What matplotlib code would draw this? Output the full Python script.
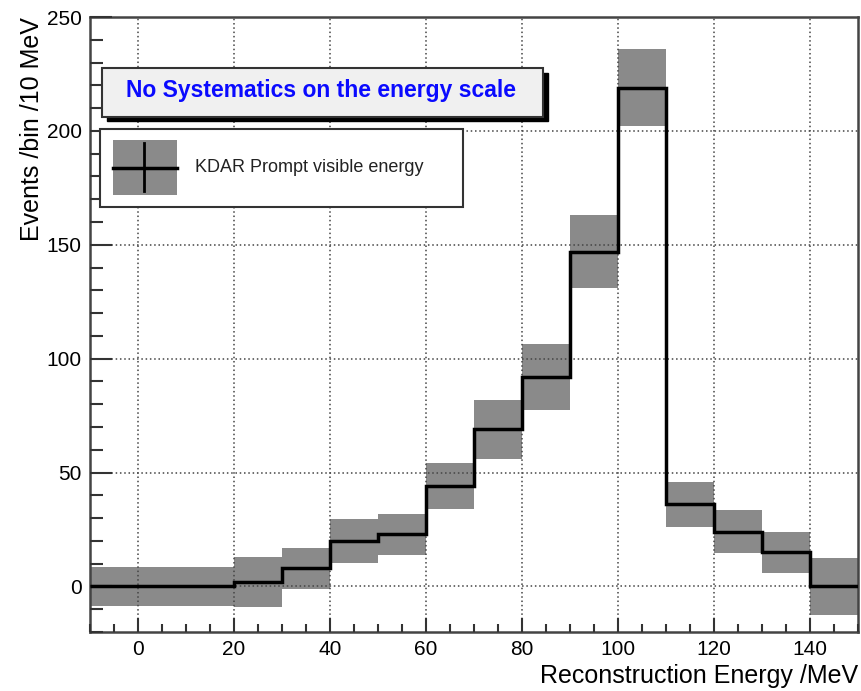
import numpy as np
import matplotlib.pyplot as plt
import matplotlib.patches as mpatches
from matplotlib.ticker import MultipleLocator

plt.rcParams['font.family'] = ['Liberation Sans', 'DejaVu Sans']

# histogram: bin edges (MeV), content and error per bin
bin_edges = [-10, 20, 30, 40, 50, 60, 70, 80, 90, 100, 110, 120, 130, 140, 150]
counts = [0, 2, 8, 20, 23, 44, 69, 92, 147, 219, 36, 24, 15, 0]
errors = [8.5, 11, 9, 9.5, 9, 10, 13, 14.5, 16, 17, 10, 9.5, 9, 12.5]

W, H = 861, 691
fig = plt.figure(figsize=(W / 100, H / 100), dpi=100)
ax = fig.add_axes([90 / W, 1 - 632 / H, 768 / W, 615 / H])

edges = np.array(bin_edges, dtype=float)
c = np.array(counts, dtype=float)
e = np.array(errors, dtype=float)

# error boxes
for lo, hi, v, err in zip(edges[:-1], edges[1:], c, e):
    ax.add_patch(mpatches.Rectangle((lo, v - err), hi - lo, 2 * err,
                                    facecolor="#8a8a8a", edgecolor="none",
                                    zorder=1))

# step line
ax.stairs(c, edges, color="black", linewidth=2.5, zorder=3, baseline=None)

ax.set_xlim(-10, 150)
ax.set_ylim(-20, 250)
ax.xaxis.set_major_locator(MultipleLocator(20))
ax.xaxis.set_minor_locator(MultipleLocator(5))
ax.yaxis.set_major_locator(MultipleLocator(50))
ax.yaxis.set_minor_locator(MultipleLocator(10))
ax.tick_params(which="both", direction="in", labelsize=15, width=1.5,
               color="#333333")
ax.tick_params(which="major", length=10)
ax.tick_params(which="minor", length=6)
ax.tick_params(axis="y", which="major", length=16)
ax.tick_params(axis="y", which="minor", length=9)
ax.tick_params(axis="x", pad=6)
ax.tick_params(axis="y", pad=6)
ax.set_axisbelow(False)
ax.grid(True, which="major", color="#444444", linestyle=(0, (1, 1.8)),
        linewidth=1.1, zorder=2)
for spine in ax.spines.values():
    spine.set_linewidth(1.8)
    spine.set_color("#444444")

ax.set_xlabel("Reconstruction Energy /MeV", fontsize=18, loc="right",
              labelpad=3)
ax.set_ylabel("Events /bin /10 MeV", fontsize=18, loc="top", labelpad=2)


def fbox(x0, y0, x1, y1):
    # pixel box (top-left origin) -> figure fraction rectangle
    return (x0 / W, 1 - y1 / H), (x1 - x0) / W, (y1 - y0) / H


# title box with shadow
xy, w, h = fbox(107, 73, 548, 121)
fig.add_artist(mpatches.Rectangle(xy, w, h, transform=fig.transFigure,
                                  facecolor="black", edgecolor="black",
                                  zorder=5))
xy, w, h = fbox(102, 68, 543, 117)
fig.add_artist(mpatches.Rectangle(xy, w, h, transform=fig.transFigure,
                                  facecolor="#f0f0f0", edgecolor="#333333",
                                  linewidth=1.5, zorder=6))
fig.text(321 / W, 1 - 91 / H, "No Systematics on the energy scale",
         color="#0a0aff", fontsize=16.5, fontweight="bold",
         ha="center", va="center", zorder=7)

# legend box
xy, w, h = fbox(100, 129, 463, 207)
fig.add_artist(mpatches.Rectangle(xy, w, h, transform=fig.transFigure,
                                  facecolor="white", edgecolor="#333333",
                                  linewidth=1.5, zorder=6))
xy, w, h = fbox(113, 140, 177, 195)
fig.add_artist(mpatches.Rectangle(xy, w, h, transform=fig.transFigure,
                                  facecolor="#8a8a8a", edgecolor="none",
                                  zorder=7))
fig.add_artist(plt.Line2D([113 / W, 177 / W], [1 - 168 / H, 1 - 168 / H],
                          transform=fig.transFigure, color="black",
                          linewidth=2.5, zorder=8))
fig.add_artist(plt.Line2D([144 / W, 144 / W], [1 - 143 / H, 1 - 191 / H],
                          transform=fig.transFigure, color="black",
                          linewidth=2, zorder=8))
fig.text(195 / W, 1 - 167 / H, "KDAR Prompt visible energy",
         color="#222222", fontsize=13, ha="left", va="center", zorder=8)

fig.savefig("out.png", dpi=100)
